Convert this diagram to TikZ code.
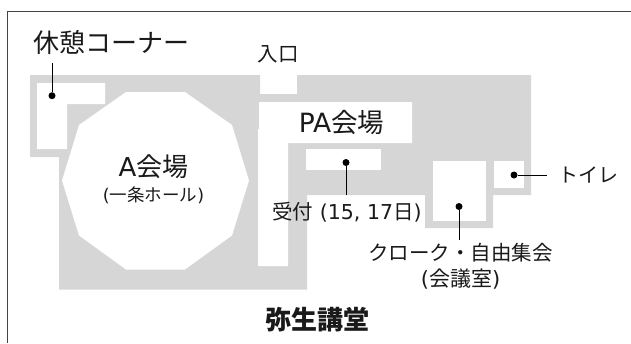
\documentclass[tikz,border=0pt]{standalone}
\usepackage{fontspec}
\setmainfont{DejaVu Sans}
\newfontfamily\cjk{Noto Sans CJK JP}
\newcommand{\lbl}[2]{\fontsize{#1}{#1}\selectfont #2}
\definecolor{floor}{HTML}{D6D6D6}
\definecolor{frameline}{HTML}{444444}
\definecolor{ink}{HTML}{1A1A1A}
\tikzset{
  x=1pt,y=-1pt,
  room/.style={fill=white,draw=none},
  pin/.style={circle,fill=black,inner sep=0pt,minimum size=7pt},
  leader/.style={draw=black,line width=1pt},
  txt/.style={inner sep=0pt,text=ink,anchor=center,align=center},
}
\begin{document}
\begin{tikzpicture}
\useasboundingbox (0,0) rectangle (631,343);
\draw[frameline,line width=1pt] (7.5,343) -- (7.5,11.5) -- (631,11.5);
\fill[floor] (30,75) -- (260,75) -- (260,94) -- (297,94) -- (297,75) -- (531,75) -- (531,195) -- (493,195) -- (493,228) -- (425,228) -- (425,195) -- (307,195) -- (307,289.5) -- (59,289.5) -- (59,157) -- (30,157) -- cycle;
\fill[room] (37,83) -- (105,83) -- (105,104) -- (67,104) -- (67,149) -- (37,149) -- cycle;
\fill[room] (126,92) -- (185,92) -- (232,125) -- (249,180.5) -- (232,235.5) -- (185,269.5) -- (126,269.5) -- (79,235.5) -- (62,180.5) -- (79,125) -- cycle;
\fill[room] (259,102) -- (412,102) -- (412,143) -- (288,143) -- (288,266) -- (258,266) -- (258,129) -- (259,129) -- cycle;
\fill[room] (306,149) rectangle (381,170);
\fill[room] (433,161) rectangle (486,221);
\fill[room] (494,161) rectangle (524,188);
\node[pin] (p1) at (52,95.7) {};
\node[pin] (p2) at (346,162.5) {};
\node[pin] (p3) at (459,206.5) {};
\node[pin] (p4) at (514,175) {};
\coordinate (e1) at (52,63);
\coordinate (e2) at (346,195);
\coordinate (e3) at (459,240);
\coordinate (e4) at (547,175);
\draw[leader] (p1) -- (e1);
\draw[leader] (p2) -- (e2);
\draw[leader] (p3) -- (e3);
\draw[leader] (p4) -- (e4);
\node[txt] (t1) at (111.5,43) {\lbl{26}{\cjk 休憩コーナー}};
\node[txt] (t2) at (278,54.5) {\lbl{20.5}{\cjk 入口}};
\node[txt] (t3) at (341.5,122) {\lbl{26.5}{PA\cjk 会場}};
\node[txt] (t4) at (153.5,167) {\lbl{26}{A\cjk 会場}};
\node[txt] (t5) at (153.5,195) {\lbl{17.5}{({\cjk 一条ホール})}};
\node[txt] (t6) at (347,212) {\lbl{20.5}{{\cjk 受付} (15, 17{\cjk 日})}};
\node[txt] (t7) at (588,175) {\lbl{20}{\cjk トイレ}};
\node[txt] (t8) at (460.5,253) {\lbl{20.5}{\cjk クローク・自由集会}};
\node[txt] (t9) at (460.5,279) {\lbl{21}{({\cjk 会議室})}};
\node[txt] (t10) at (317.5,320) {\lbl{26}{\cjk\bfseries 弥生講堂}};
\end{tikzpicture}
\end{document}
